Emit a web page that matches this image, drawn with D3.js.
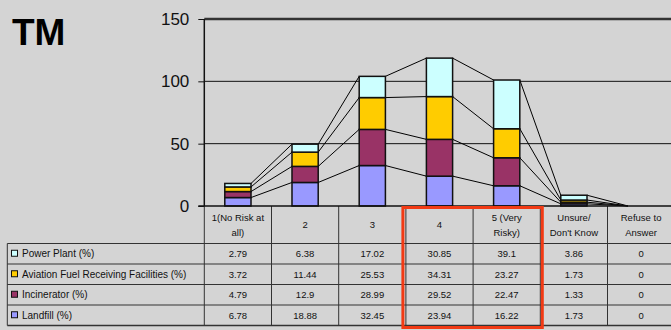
<!DOCTYPE html>
<html>
<head>
<meta charset="utf-8">
<script src="https://cdn.jsdelivr.net/npm/d3@7"></script>
<style>
  html, body { margin: 0; padding: 0; background: #d4d4d4; }
  svg { display: block; font-family: Arial, "Liberation Sans", sans-serif; }
</style>
</head>
<body>
<svg></svg>
<script>
const width = 671;
const height = 330;

// categories (header lines of the table)
const categories = ['1(No Risk at|all)', '2', '3', '4', '5 (Very|Risky)', 'Unsure/|Don\'t Know', 'Refuse to|Answer'];
// series, bottom of stack first
const seriesNames = ['Landfill (%)', 'Incinerator (%)', 'Aviation Fuel Receiving Facilities (%)', 'Power Plant (%)'];
const landfill    = [6.78, 18.88, 32.45, 23.94, 16.22, 1.73, 0];
const incinerator = [4.79, 12.9, 28.99, 29.52, 22.47, 1.33, 0];
const aviation    = [3.72, 11.44, 25.53, 34.31, 23.27, 1.73, 0];
const powerPlant  = [2.79, 6.38, 17.02, 30.85, 39.1, 3.86, 0];
const colors = ['#9999ff', '#993366', '#ffcc00', '#ccffff'];
const yTicks = [0, 50, 100, 150];
const highlighted = ['4', '5 (Very|Risky)'];

const seriesValues = [landfill, incinerator, aviation, powerPlant];
const rows = categories.map((c, i) => {
  const r = { cat: c };
  seriesNames.forEach((s, j) => r[s] = seriesValues[j][i]);
  return r;
});
const stacked = d3.stack().keys(seriesNames)(rows);

const svg = d3.select('svg').attr('width', width).attr('height', height);

const plotLeft = 204.3, plotRight = 674.7, plotTop = 19, plotBottom = 206;
const x = d3.scaleBand().domain(categories).range([plotLeft, plotRight]).padding(0);
const y = d3.scaleLinear().domain([0, 150]).range([plotBottom, plotTop]);
const barW = x.bandwidth() * 0.39;
const bx = c => x(c) + (x.bandwidth() - barW) / 2;

// title
svg.append('text')
    .attr('x', 12).attr('y', 45)
    .style('font-size', '37px').style('font-weight', 'bold')
    .text('TM');

// gridlines
svg.append('g').selectAll('line')
    .data(yTicks.filter(t => t > 0))
    .enter().append('line')
    .attr('x1', plotLeft).attr('x2', plotRight)
    .attr('y1', d => y(d)).attr('y2', d => y(d))
    .style('stroke', d => d === 150 ? '#333' : '#111')
    .style('stroke-width', d => d === 150 ? 2.5 : 1);

// y axis
const yAxis = svg.append('g')
    .attr('transform', `translate(${plotLeft},0)`)
    .call(d3.axisLeft(y).tickValues(yTicks).tickSize(6).tickPadding(9));
yAxis.select('.domain').remove();
yAxis.selectAll('line').style('stroke', '#111');
yAxis.selectAll('text').style('font-size', '17px').style('fill', '#111').attr('font-family', null);
svg.append('line')
    .attr('x1', plotLeft).attr('x2', plotLeft)
    .attr('y1', plotTop).attr('y2', plotBottom)
    .style('stroke', '#111').style('stroke-width', 1.5);

// series lines between bars
stacked.forEach(layer => {
  for (let i = 0; i < categories.length - 1; i++) {
    svg.append('line')
        .attr('x1', bx(categories[i]) + barW).attr('y1', y(layer[i][1]))
        .attr('x2', bx(categories[i + 1])).attr('y2', y(layer[i + 1][1]))
        .style('stroke', '#000').style('stroke-width', 1);
  }
});

// bars
svg.append('g').selectAll('g')
    .data(stacked)
    .enter().append('g')
    .style('fill', (d, i) => colors[i])
    .selectAll('rect')
    .data(d => d.filter(p => p[1] - p[0] > 0))
    .enter().append('rect')
    .attr('x', d => bx(d.data.cat))
    .attr('width', barW)
    .attr('y', d => y(d[1]))
    .attr('height', d => y(d[0]) - y(d[1]))
    .style('stroke', '#111').style('stroke-width', 1.5);

// data table
const headerBottom = 243.5;
const rowH = 20.5;
const tableLeft = 7.3;
const tableRows = seriesNames.slice().reverse();
const tableColors = colors.slice().reverse();
const tableVals = seriesValues.slice().reverse();
const tableBottom = headerBottom + rowH * tableRows.length;
const table = svg.append('g').style('stroke', '#333').style('stroke-width', 1);

// vertical lines
table.selectAll('.vcol')
    .data(categories.map(c => x(c)).concat([plotRight]))
    .enter().append('line')
    .attr('x1', d => d).attr('x2', d => d)
    .attr('y1', plotBottom).attr('y2', tableBottom);
table.append('line')
    .attr('x1', tableLeft).attr('x2', tableLeft)
    .attr('y1', headerBottom).attr('y2', tableBottom);
// horizontal lines
table.append('line')
    .attr('x1', plotLeft - 6).attr('x2', plotRight)
    .attr('y1', plotBottom).attr('y2', plotBottom)
    .style('stroke', '#111').style('stroke-width', 1.5);
table.selectAll('.hrow')
    .data(d3.range(tableRows.length + 1))
    .enter().append('line')
    .attr('x1', tableLeft).attr('x2', plotRight)
    .attr('y1', d => headerBottom + d * rowH).attr('y2', d => headerBottom + d * rowH)
    .style('stroke-width', d => d === tableRows.length ? 1.5 : 1);

// header labels
categories.forEach(c => {
  const lines = c.split('|');
  const cx = x(c) + x.bandwidth() / 2;
  const cy = (plotBottom + headerBottom) / 2;
  const t = svg.append('text')
      .attr('text-anchor', 'middle')
      .style('font-size', '9.5px').style('fill', '#111');
  lines.forEach((l, k) => {
    t.append('tspan')
        .attr('x', cx)
        .attr('y', cy + (k - (lines.length - 1) / 2) * 15.5 + 3.5)
        .text(l);
  });
});

// row labels, swatches and values
tableRows.forEach((name, r) => {
  const cy = headerBottom + r * rowH + rowH / 2;
  svg.append('rect')
      .attr('x', 11.5).attr('y', cy - 3.5)
      .attr('width', 6).attr('height', 6)
      .style('fill', tableColors[r]).style('stroke', '#111').style('stroke-width', 1);
  svg.append('text')
      .attr('x', 22).attr('y', cy + 3.5)
      .style('font-size', '10px').style('fill', '#111')
      .text(name);
  categories.forEach((c, i) => {
    svg.append('text')
        .attr('x', x(c) + x.bandwidth() / 2).attr('y', cy + 3.5)
        .attr('text-anchor', 'middle')
        .style('font-size', '9.5px').style('fill', '#111')
        .text(tableVals[r][i]);
  });
});

// highlight box
const hx0 = x(highlighted[0]) - 3;
const hx1 = x(highlighted[1]) + x.bandwidth() + 2;
svg.append('rect')
    .attr('x', hx0).attr('y', plotBottom + 1.5)
    .attr('width', hx1 - hx0).attr('height', 327.5 - plotBottom - 1.5)
    .style('fill', 'none').style('stroke', '#f23a14').style('stroke-width', 3);
</script>
</body>
</html>
